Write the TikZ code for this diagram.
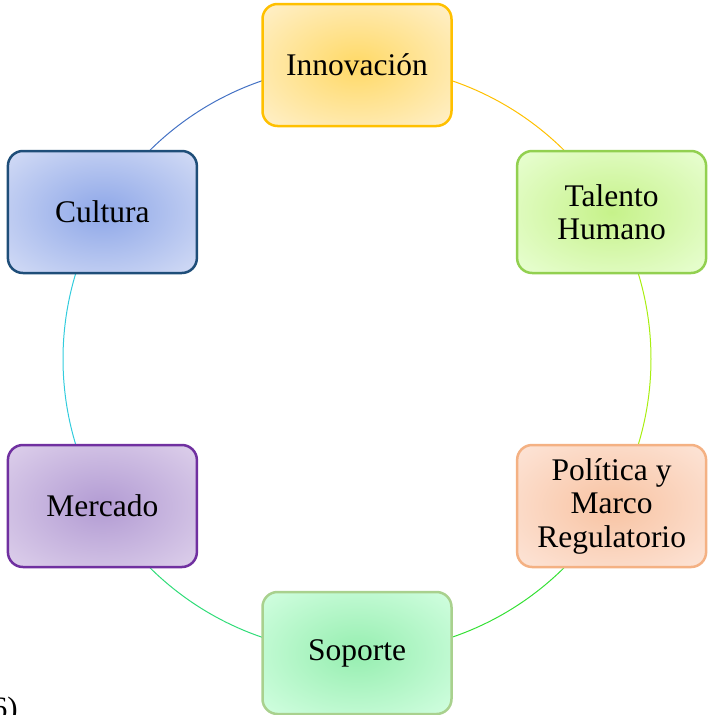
\documentclass[tikz,border=0pt]{standalone}
\usepackage{fontspec}
\setmainfont{Liberation Serif}
\definecolor{bInn}{HTML}{FFC000}
\definecolor{iInn}{HTML}{FFD966}
\definecolor{oInn}{HTML}{FFF1CF}
\definecolor{bTal}{HTML}{92D050}
\definecolor{iTal}{HTML}{C6F28A}
\definecolor{oTal}{HTML}{EAFFD6}
\definecolor{bPol}{HTML}{F4B183}
\definecolor{iPol}{HTML}{F8C3A2}
\definecolor{oPol}{HTML}{FDE6DA}
\definecolor{bSop}{HTML}{A9D18E}
\definecolor{iSop}{HTML}{96EEB0}
\definecolor{oSop}{HTML}{D4FFE2}
\definecolor{bMer}{HTML}{7030A0}
\definecolor{iMer}{HTML}{B29BD3}
\definecolor{oMer}{HTML}{DFD2EC}
\definecolor{bCul}{HTML}{1F4E79}
\definecolor{iCul}{HTML}{8EA7E8}
\definecolor{oCul}{HTML}{D6DEF6}
\definecolor{aInn}{HTML}{FFC000}
\definecolor{aTal}{HTML}{A8EE10}
\definecolor{aPol}{HTML}{35E035}
\definecolor{aSop}{HTML}{30DC78}
\definecolor{aMer}{HTML}{33CCDD}
\definecolor{aCul}{HTML}{4472C4}
\colorlet{radin}{white}
\colorlet{radout}{white}
\pgfdeclareradialshading[radin,radout]{softrad}{\pgfpoint{0bp}{0bp}}{color(0bp)=(radin); color(37bp)=(radout); color(50bp)=(radout)}
\begin{document}
\begin{tikzpicture}[x=1pt,y=1pt,
  cyclebox/.style={rectangle, rounded corners=15pt, minimum width=189pt,
    minimum height=122pt, line width=2.5pt, align=center, inner sep=0pt,
    font=\fontsize{31.5}{33.5}\selectfont, text=black},
  fillgrad/.style 2 args={/utils/exec={\colorlet{radin}{#1}\colorlet{radout}{#2}}, shading=softrad},
  ring/.style={line width=1pt}]
\useasboundingbox (0,0) rectangle (707,-715);
\coordinate (O) at (357,-359);
\draw[ring, aInn] ([shift={(90:294pt)}]O) arc[start angle=90, end angle=30, radius=294pt];
\draw[ring, aTal] ([shift={(30:294pt)}]O) arc[start angle=30, end angle=-30, radius=294pt];
\draw[ring, aPol] ([shift={(-30:294pt)}]O) arc[start angle=-30, end angle=-90, radius=294pt];
\draw[ring, aSop] ([shift={(-90:294pt)}]O) arc[start angle=-90, end angle=-150, radius=294pt];
\draw[ring, aMer] ([shift={(-150:294pt)}]O) arc[start angle=-150, end angle=-210, radius=294pt];
\draw[ring, aCul] ([shift={(150:294pt)}]O) arc[start angle=150, end angle=90, radius=294pt];
\node[cyclebox, draw=bInn, fillgrad={iInn}{oInn}] (inn) at ([shift={(90:294pt)}]O) {Innovación};
\node[cyclebox, draw=bTal, fillgrad={iTal}{oTal}] (tal) at ([shift={(30:294pt)}]O) {Talento\\Humano};
\node[cyclebox, draw=bPol, fillgrad={iPol}{oPol}] (pol) at ([shift={(-30:294pt)}]O) {Política y\\Marco\\Regulatorio};
\node[cyclebox, draw=bSop, fillgrad={iSop}{oSop}] (sop) at ([shift={(-90:294pt)}]O) {Soporte};
\node[cyclebox, draw=bMer, fillgrad={iMer}{oMer}] (mer) at ([shift={(-150:294pt)}]O) {Mercado};
\node[cyclebox, draw=bCul, fillgrad={iCul}{oCul}] (cul) at ([shift={(150:294pt)}]O) {Cultura};
\node[anchor=base east, inner sep=0pt, font=\fontsize{31}{33.5}\selectfont] (lbl) at (18,-718) {6)};
\end{tikzpicture}
\end{document}
